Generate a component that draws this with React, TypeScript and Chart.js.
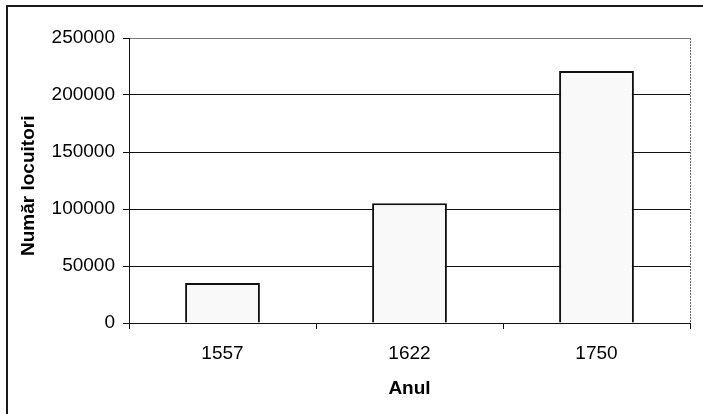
import React, { useEffect, useRef } from "react";
import { Chart, registerables } from "chart.js";

Chart.register(...registerables);

const categories: string[] = ["1557", "1622", "1750"];
const populationValues: number[] = [35000, 105000, 221000];
const yAxisTitle = "Număr locuitori  ";
const xAxisTitle = "Anul";

const FONT = "'Liberation Sans', Arial, sans-serif";

const framePlugin = {
  id: "frame",
  beforeDraw(chart: any) {
    const { ctx, width, height } = chart;
    ctx.save();
    ctx.fillStyle = "#ffffff";
    ctx.fillRect(0, 0, width, height);
    ctx.restore();
  },
  afterDraw(chart: any) {
    const { ctx, width, height, chartArea } = chart;
    ctx.save();
    ctx.strokeStyle = "#1a1a1a";
    ctx.lineWidth = 2;
    ctx.beginPath();
    ctx.moveTo(6, 6);
    ctx.lineTo(width, 6);
    ctx.moveTo(7, 6);
    ctx.lineTo(7, height);
    ctx.stroke();
    ctx.strokeStyle = "#666666";
    ctx.lineWidth = 1;
    ctx.setLineDash([2, 1]);
    ctx.beginPath();
    ctx.moveTo(Math.round(chartArea.right) + 0.5, chartArea.top);
    ctx.lineTo(Math.round(chartArea.right) + 0.5, chartArea.bottom);
    ctx.stroke();
    ctx.restore();
  },
};

export default function App() {
  const canvasRef = useRef<HTMLCanvasElement | null>(null);

  useEffect(() => {
    if (!canvasRef.current) return;
    const chart = new Chart(canvasRef.current, {
      type: "bar",
      data: {
        labels: categories,
        datasets: [
          {
            data: populationValues,
            backgroundColor: "#f9f9f9",
            borderColor: "#111111",
            borderWidth: 2,
            categoryPercentage: 0.4,
            barPercentage: 1,
          },
        ],
      },
      options: {
        responsive: false,
        animation: false,
        layout: { padding: { left: 0, right: 13, top: 38, bottom: 0 } },
        plugins: {
          legend: { display: false },
          tooltip: { enabled: false },
        },
        scales: {
          x: {
            offset: true,
            grid: {
              offset: true,
              drawOnChartArea: false,
              drawTicks: true,
              tickLength: 6,
              tickColor: "#111111",
            },
            border: { display: true, color: "#111111", width: 1 },
            ticks: {
              color: "#000000",
              font: { family: FONT, size: 19 },
              padding: 13,
            },
            title: {
              display: true,
              text: xAxisTitle,
              color: "#000000",
              font: { family: FONT, size: 19, weight: "bold" },
              padding: { top: 0, bottom: 14 },
            },
            afterFit(scale: any) {
              scale.height = 91;
            },
          },
          y: {
            min: 0,
            max: 250000,
            ticks: {
              stepSize: 50000,
              color: "#000000",
              font: { family: FONT, size: 19 },
              padding: 8,
              callback: (value: any) => String(value),
            },
            grid: {
              color: (ctx: any) =>
                ctx.tick && ctx.tick.value === 250000 ? "#777777" : "#111111",
              lineWidth: 1,
              tickLength: 6,
              tickColor: "#111111",
            },
            border: { display: true, color: "#111111", width: 1 },
            title: {
              display: true,
              text: yAxisTitle,
              color: "#000000",
              font: { family: FONT, size: 19, weight: "bold" },
              padding: { top: 17, bottom: 0 },
            },
            afterFit(scale: any) {
              scale.width = 129;
            },
          },
        },
      },
      plugins: [framePlugin],
    });
    return () => chart.destroy();
  }, []);

  return (
    <div style={{ position: "fixed", left: 0, top: 0, width: 703, height: 414 }}>
      <canvas ref={canvasRef} width={703} height={414} style={{ display: "block" }} />
    </div>
  );
}
